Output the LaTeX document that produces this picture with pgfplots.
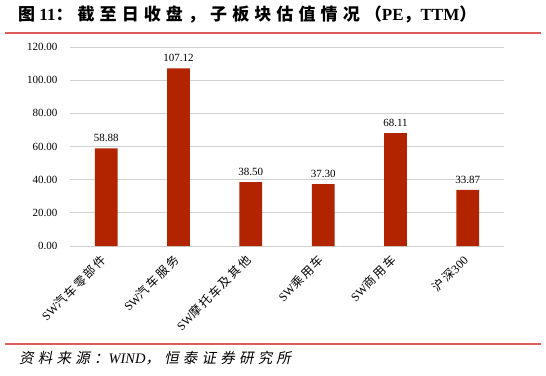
\documentclass[border=0pt]{standalone}
\usepackage{fontspec}
\setmainfont{Liberation Serif}
\newfontfamily\cjk[LetterSpace=15]{Noto Sans CJK SC}
\newfontfamily\cjkt[LetterSpace=30]{Noto Sans CJK SC}
\newfontfamily\cjkit[FakeSlant=0.2,LetterSpace=29]{Noto Sans CJK SC}
\usepackage{pgfplots}
\pgfplotsset{compat=1.18}
\definecolor{barred}{RGB}{178,36,0}
\definecolor{linered}{RGB}{222,92,92}
\begin{document}
\begin{tikzpicture}[x=1pt,y=1pt]
\path[use as bounding box] (0,0) rectangle (546,375);
\node[anchor=west,inner sep=0] at (18,361) {\fontsize{17}{17}\selectfont\bfseries{\cjkt 图} 11{\cjkt ：截至日收盘，子板块估值情况（}PE{\cjkt ，}TTM{\cjkt ）}};
\draw[linered,line width=1.2pt] (5,342) -- (541,342);
\draw[linered,line width=1.2pt] (5,31) -- (541,31);
\node[anchor=west,inner sep=0] at (19,17) {\fontsize{14.5}{14.5}\selectfont{\cjkit 资料来源：}\textit{WIND}{\cjkit ，恒泰证券研究所}};
\begin{axis}[
  at={(70pt,129pt)}, anchor=south west,
  scale only axis, width=434pt, height=199pt,
  xmin=-0.5, xmax=5.5, ymin=0, ymax=120,
  ytick={0,20,...,120},
  xtick={0,...,5},
  xticklabels={{SW{\cjk 汽车零部件}},{SW{\cjk 汽车服务}},{SW{\cjk 摩托车及其他}},{SW{\cjk 乘用车}},{SW{\cjk 商用车}},{{\cjk 沪深}300}},
  xticklabel style={xshift=-2pt, yshift=-12pt, rotate=45, anchor=east, font=\fontsize{12}{12}\selectfont, inner sep=0pt},
  yticklabel style={font=\fontsize{11}{11}\selectfont, /pgf/number format/fixed, /pgf/number format/fixed zerofill, /pgf/number format/precision=2, xshift=-9pt},
  /pgf/number format/assume math mode=true,
  axis line style={draw=none},
  major tick length=0pt,
  ymajorgrids, grid style={draw=black!18, line width=0.8pt},
  ybar, bar width=22.7pt,
  nodes near coords,
  every node near coord/.append style={font=\fontsize{11}{11}\selectfont, /pgf/number format/fixed, /pgf/number format/fixed zerofill, /pgf/number format/precision=2, /pgf/number format/assume math mode=true, yshift=3pt},
]
\addplot[fill=barred, draw=none] coordinates {(0,58.88) (1,107.12) (2,38.50) (3,37.30) (4,68.11) (5,33.87)};
\end{axis}
\end{tikzpicture}
\end{document}
